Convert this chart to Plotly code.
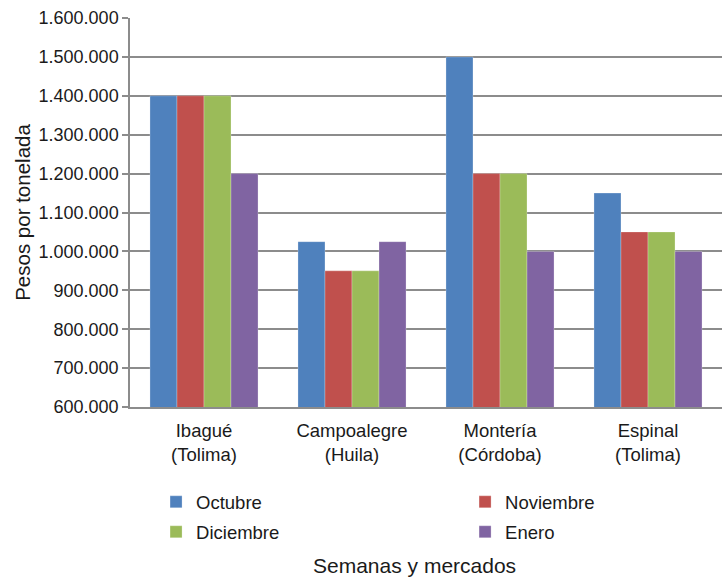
import plotly.graph_objects as go

categories = ["Ibagué<br>(Tolima)", "Campoalegre<br>(Huila)", "Montería<br>(Córdoba)", "Espinal<br>(Tolima)"]
octubre = [1400000, 1025000, 1500000, 1150000]
noviembre = [1400000, 950000, 1200000, 1050000]
diciembre = [1400000, 950000, 1200000, 1050000]
enero = [1200000, 1025000, 1000000, 1000000]

# name, values, colour, legend id (one legend per entry so the 2x2 grid lines up)
series = [
    ("Octubre", octubre, "#4F81BD", "legend"),
    ("Noviembre", noviembre, "#C0504D", "legend2"),
    ("Diciembre", diciembre, "#9BBB59", "legend3"),
    ("Enero", enero, "#8064A2", "legend4"),
]

FONT = "Liberation Sans, Arial, sans-serif"
GRID = "#8c8c8c"

fig = go.Figure()
for name, vals, color, leg in series:
    fig.add_trace(go.Bar(
        x=categories, y=vals, name=name, legend=leg, showlegend=True,
        marker=dict(color=color, line=dict(color="rgba(255,255,255,0.5)", width=0.5)),
    ))

legend_style = dict(
    orientation="h", xanchor="left", yanchor="middle",
    font=dict(size=18.5), bgcolor="rgba(0,0,0,0)", visible=True,
)
col1, col2 = 0.044, 0.566
row1, row2 = -0.245, -0.322

fig.update_layout(
    width=727, height=577, showlegend=True,
    barmode="group", bargap=0.27, bargroupgap=0,
    plot_bgcolor="white", paper_bgcolor="white",
    separators=",.",
    font=dict(family=FONT, size=18, color="#1a1a1a"),
    margin=dict(l=130, r=5, t=18, b=170),
    xaxis=dict(
        showline=True, linecolor=GRID, linewidth=1.5,
        ticks="", tickfont=dict(size=18.5), showgrid=False,
        ticklabelstandoff=6, automargin=False,
    ),
    yaxis=dict(
        range=[600000, 1600000], dtick=100000, tickformat=",d",
        showgrid=True, gridcolor=GRID, gridwidth=1.5,
        showline=True, linecolor=GRID, linewidth=1.5,
        ticks="outside", ticklen=6, tickcolor=GRID, tickwidth=1.5,
        tickfont=dict(size=18), automargin=False,
        title=dict(text="Pesos por tonelada", font=dict(size=20.5), standoff=2),
    ),
    legend=dict(legend_style, x=col1, y=row1),
    legend2=dict(legend_style, x=col2, y=row1),
    legend3=dict(legend_style, x=col1, y=row2),
    legend4=dict(legend_style, x=col2, y=row2),
    annotations=[dict(
        text="Semanas y mercados", xref="paper", yref="paper",
        x=0.481, y=-0.408, xanchor="center", yanchor="middle",
        showarrow=False, font=dict(size=21),
    )],
)

fig.write_html("out.html", config={"displayModeBar": False},
               post_script="document.body.style.margin='0';")
